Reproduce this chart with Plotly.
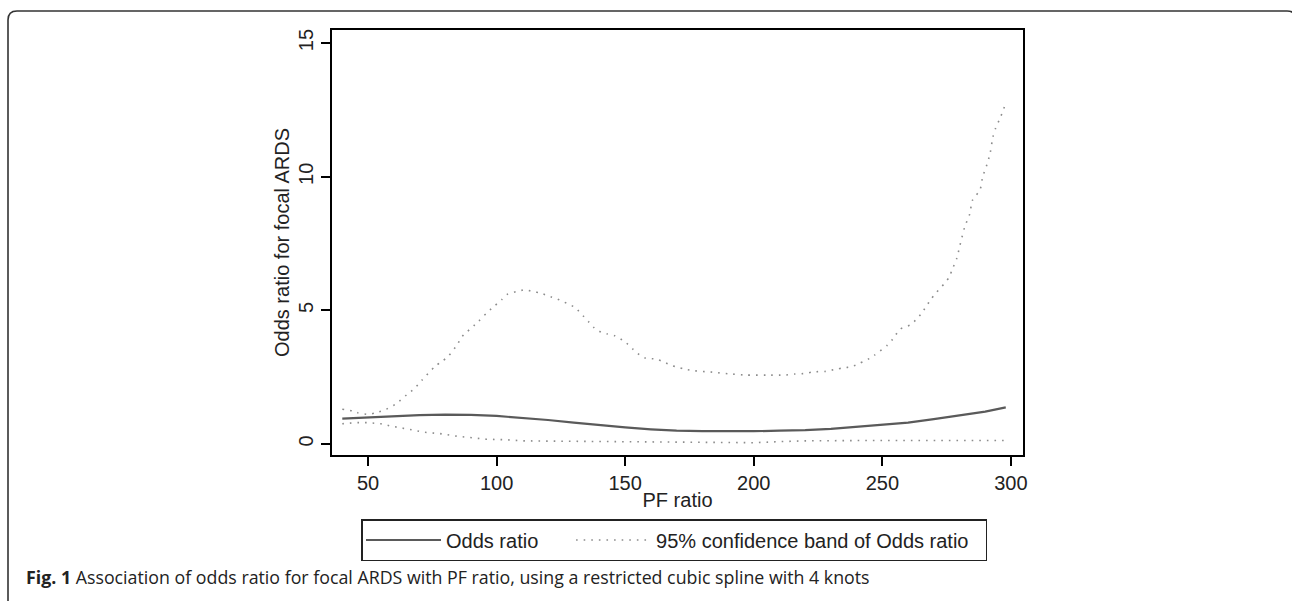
import plotly.graph_objects as go

# ---- data ----
or_pf = [40, 45, 50, 60, 70, 80, 90, 100, 110, 120, 130, 140, 150, 160, 170, 180, 190, 200,
         210, 220, 230, 240, 250, 260, 270, 280, 290, 298]
or_val = [0.95, 0.97, 1.00, 1.05, 1.08, 1.10, 1.09, 1.05, 0.98, 0.90, 0.80, 0.70, 0.62, 0.55,
          0.50, 0.48, 0.47, 0.48, 0.50, 0.52, 0.57, 0.64, 0.72, 0.80, 0.93, 1.07, 1.21, 1.37]

lo_pf = [40, 45, 50, 55, 59, 62, 66, 72, 78, 84, 90, 96, 104, 110, 120, 130, 140, 150, 160,
         170, 180, 190, 200, 210, 220, 240, 260, 280, 298]
lo_val = [0.76, 0.80, 0.80, 0.76, 0.67, 0.61, 0.55, 0.44, 0.39, 0.30, 0.24, 0.18, 0.16, 0.12,
          0.11, 0.10, 0.10, 0.10, 0.09, 0.07, 0.06, 0.05, 0.05, 0.09, 0.12, 0.13, 0.13, 0.13, 0.13]

up_pf = [40, 44, 46, 50, 53, 57, 61, 65, 68, 71, 76, 79, 81, 85, 86, 93, 96, 98, 102, 104, 108,
         111, 114, 117, 121, 123, 130, 131, 134, 136, 138, 141, 143, 146, 150, 153, 156, 158, 162,
         165, 168, 170, 173, 177, 181, 185, 190, 197, 205, 212, 216, 220, 223, 228, 232, 235, 238,
         241, 243, 245, 247, 252, 254, 257, 261, 263, 265, 267, 269, 271, 274, 276, 277, 279, 280,
         282, 284, 285, 288, 289, 291, 292, 293, 294, 296, 297, 298]
up_val = [1.30, 1.24, 1.17, 1.11, 1.17, 1.30, 1.51, 1.84, 2.07, 2.39, 2.90, 3.11, 3.26, 3.76,
          3.96, 4.59, 4.89, 5.07, 5.40, 5.59, 5.71, 5.77, 5.71, 5.65, 5.51, 5.45, 5.14, 5.07,
          4.76, 4.55, 4.34, 4.17, 4.12, 4.05, 3.82, 3.55, 3.30, 3.21, 3.18, 3.07, 2.94, 2.89,
          2.80, 2.74, 2.71, 2.68, 2.63, 2.58, 2.58, 2.58, 2.62, 2.64, 2.70, 2.72, 2.80, 2.85,
          2.89, 3.01, 3.11, 3.20, 3.33, 3.70, 3.92, 4.30, 4.46, 4.64, 4.86, 5.14, 5.43, 5.67,
          5.99, 6.24, 6.49, 6.96, 7.36, 8.11, 8.61, 9.11, 9.51, 9.99, 10.55, 10.92, 11.49, 11.80,
          12.24, 12.49, 12.76]

y_ticks = [0, 5, 10, 15]
x_ticks = [50, 100, 150, 200, 250, 300]

series_or = "Odds ratio"
series_ci = "95% confidence band of Odds ratio"
x_title = "PF ratio"
y_title = "Odds ratio for focal ARDS"
caption_bold = "Fig. 1"
caption_rest = " Association of odds ratio for focal ARDS with PF ratio, using a restricted cubic spline with 4 knots"

# ---- layout geometry (pixels) ----
W, H = 1292, 601
PL, PR, PT, PB = 332, 1023, 30, 455


def px2x(px):
    return (px - PL) / (PR - PL)


def py2y(py):
    return (PB - py) / (PB - PT)


FONT = "Liberation Sans, Arial, sans-serif"
TXT = "#222222"
NB = "\u00a0"

fig = go.Figure()
fig.add_trace(go.Scatter(x=or_pf, y=or_val, mode="lines", name=series_or + NB * 5,
                         line=dict(color="#5a5a5a", width=2.2)))
fig.add_trace(go.Scatter(x=lo_pf, y=lo_val, mode="lines", name=series_ci, legendgroup="ci",
                         showlegend=False,
                         line=dict(color="#8c8c8c", width=1.6, dash="1.6px,6px")))
fig.add_trace(go.Scatter(x=up_pf, y=up_val, mode="lines", name=series_ci + NB * 2,
                         legendgroup="ci",
                         line=dict(color="#8c8c8c", width=1.6, dash="1.6px,6px", shape="spline",
                                   smoothing=0.6)))

# outer rounded frame (right edge falls just outside the page)
r = 9
L, R, T, B = 8, 1296, 11, 612
path = (f"M {px2x(L)},{py2y(B)} L {px2x(L)},{py2y(T + r)} "
        f"Q {px2x(L)},{py2y(T)} {px2x(L + r)},{py2y(T)} "
        f"L {px2x(R - r)},{py2y(T)} Q {px2x(R)},{py2y(T)} {px2x(R)},{py2y(T + r)} "
        f"L {px2x(R)},{py2y(B)}")
fig.add_shape(type="path", xref="paper", yref="paper", path=path,
              line=dict(color="#333333", width=1.6))

fig.add_annotation(xref="paper", yref="paper", x=px2x(24), y=py2y(577),
                   xanchor="left", yanchor="middle", showarrow=False,
                   text=f"<b>{caption_bold}</b>{caption_rest}",
                   font=dict(family="Open Sans, sans-serif", size=17.8, color="#222222"))

axis_common = dict(showline=True, linecolor="black", linewidth=2, mirror=True,
                   ticks="outside", ticklen=9, tickwidth=2, tickcolor="black",
                   showgrid=False, zeroline=False, automargin=False,
                   tickfont=dict(family=FONT, size=20, color=TXT))

fig.update_layout(
    width=W, height=H,
    margin=dict(l=PL, r=W - PR, t=PT, b=H - PB, autoexpand=False),
    paper_bgcolor="white", plot_bgcolor="white",
    xaxis=dict(range=[36, 304.7], tickvals=x_ticks,
               title=dict(text=x_title, font=dict(family=FONT, size=20, color=TXT), standoff=0),
               **axis_common),
    yaxis=dict(range=[-0.41, 15.49], tickvals=y_ticks, tickangle=-90,
               title=dict(text=y_title, font=dict(family=FONT, size=20, color=TXT), standoff=0),
               **axis_common),
    legend=dict(orientation="h", x=px2x(361), y=py2y(519), xanchor="left", yanchor="top",
                bordercolor="#222222", borderwidth=1.5, bgcolor="white",
                itemwidth=75,
                font=dict(family=FONT, size=20, color=TXT)),
    showlegend=True,
)

fig.write_html("out.html", config={"displayModeBar": False},
               post_script="document.body.style.margin='0';")
